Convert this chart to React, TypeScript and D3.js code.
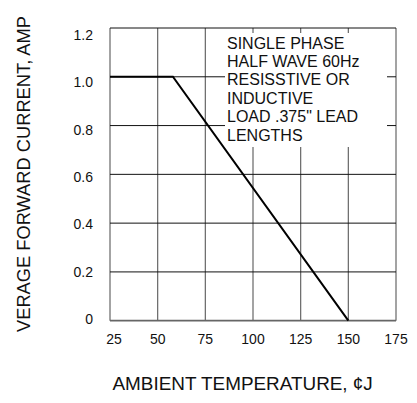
import React, { useRef, useEffect } from "react";
import * as d3 from "d3";

interface Point {
  t: number;
  amp: number;
}

const xTicks = [25, 50, 75, 100, 125, 150, 175];
const yTicks = [0, 0.2, 0.4, 0.6, 0.8, 1.0, 1.2];
const yTickLabels = ["0", "0.2", "0.4", "0.6", "0.8", "1.0", "1.2"];
const derating: Point[] = [
  { t: 25, amp: 1.0 },
  { t: 58, amp: 1.0 },
  { t: 150, amp: 0 },
];
const noteLines = [
  "SINGLE PHASE",
  "HALF WAVE 60Hz",
  "RESISSTIVE OR",
  "INDUCTIVE",
  "LOAD .375\" LEAD",
  "LENGTHS",
];

const FONT = "'Liberation Sans', Arial, Helvetica, sans-serif";

const App: React.FC = () => {
  const ref = useRef<SVGSVGElement | null>(null);
  const width = 417;
  const height = 403;

  useEffect(() => {
    const svg = d3.select(ref.current);
    svg.selectAll("*").remove();

    const x = d3.scaleLinear().domain([25, 175]).range([110, 396]);
    const y = d3.scaleLinear().domain([0, 1.2]).range([320.7, 28]);
    // labels in the scan are not quite aligned with the grid
    const yLab = d3.scaleLinear().domain([0, 1.2]).range([324, 40]);

    const g = svg.append("g");

    // vertical grid
    g.selectAll("line.v")
      .data(xTicks)
      .enter()
      .append("line")
      .attr("x1", (d) => x(d))
      .attr("x2", (d) => x(d))
      .attr("y1", y(1.2))
      .attr("y2", y(0))
      .attr("stroke", "#666")
      .attr("stroke-width", 1.2);

    // horizontal grid
    g.selectAll("line.h")
      .data(yTicks)
      .enter()
      .append("line")
      .attr("x1", x(25))
      .attr("x2", x(175))
      .attr("y1", (d) => y(d))
      .attr("y2", (d) => y(d))
      .attr("stroke", (d) => (d === 0 ? "#666" : "#111"))
      .attr("stroke-width", (d) => (d === 0 ? 1.8 : 1));

    // note box
    g.append("rect")
      .attr("x", 225)
      .attr("y", 33)
      .attr("width", 162)
      .attr("height", 114)
      .attr("fill", "white");

    g.append("text")
      .attr("font-family", FONT)
      .attr("font-size", 16)
      .attr("fill", "#111")
      .selectAll("tspan")
      .data(noteLines)
      .enter()
      .append("tspan")
      .attr("x", 227)
      .attr("y", (_, i) => 48.5 + i * 18.4)
      .text((d) => d);

    const line = d3
      .line<Point>()
      .x((d) => x(d.t))
      .y((d) => y(d.amp));

    g.append("path")
      .datum(derating)
      .attr("fill", "none")
      .attr("stroke", "#000")
      .attr("stroke-width", 2)
      .attr("d", line);

    // tick labels
    g.selectAll("text.yl")
      .data(yTicks)
      .enter()
      .append("text")
      .attr("x", 93)
      .attr("y", (d) => yLab(d))
      .attr("text-anchor", "end")
      .attr("font-family", FONT)
      .attr("font-size", 14)
      .attr("fill", "#111")
      .text((_, i) => yTickLabels[i]);

    g.selectAll("text.xl")
      .data(xTicks)
      .enter()
      .append("text")
      .attr("x", (d) => x(d) + (d === 25 ? 4 : 0))
      .attr("y", 343.5)
      .attr("text-anchor", "middle")
      .attr("font-family", FONT)
      .attr("font-size", 14)
      .attr("fill", "#111")
      .text((d) => String(d));

    // axis titles
    g.append("text")
      .attr("x", 112.5)
      .attr("y", 390)
      .attr("font-family", FONT)
      .attr("font-size", 18.9)
      .attr("fill", "#111")
      .text("AMBIENT TEMPERATURE, \u00a2J");

    g.append("text")
      .attr("transform", "translate(29.5,332) rotate(-90)")
      .attr("font-family", FONT)
      .attr("font-size", 18.3)
      .attr("fill", "#111")
      .text("VERAGE FORWARD CURRENT, AMP");
  }, []);

  return (
    <svg
      ref={ref}
      width={width}
      height={height}
      style={{ position: "absolute", left: 0, top: 0, background: "white" }}
    ></svg>
  );
};

export default App;
